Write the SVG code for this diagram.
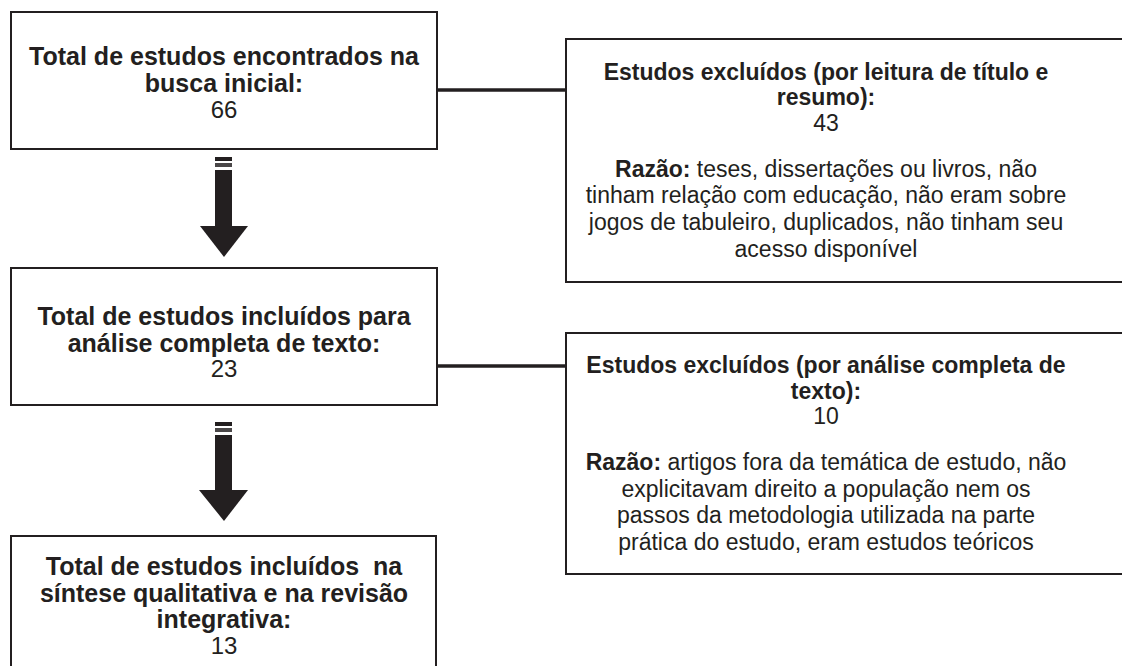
<svg xmlns="http://www.w3.org/2000/svg" width="1122" height="666" viewBox="0 0 1122 666">
<style>
.box{fill:#fff;stroke:#231f20;stroke-width:2}
.t{font-family:"Liberation Sans",Arial,sans-serif;fill:#231f20;text-anchor:middle}
.l{font-size:24px}
.lb{font-size:25px;font-weight:bold}
.r{font-size:23px}
.b{font-weight:bold}
.conn{stroke:#231f20;stroke-width:3.5;fill:none}
.arr{fill:#231f20}
.bar2{fill:#4a4748}
</style>
<rect width="1122" height="666" fill="#fff"/>
<g id="connectors">
<line class="conn" x1="437" y1="90" x2="566" y2="90"/>
<line class="conn" x1="437" y1="366" x2="566" y2="366"/>
<g id="arrow1">
<rect class="arr" x="215" y="157" width="17" height="4"/>
<rect class="bar2" x="215" y="163" width="17" height="4"/>
<rect class="arr" x="215" y="170" width="17" height="57"/>
<polygon class="arr" points="200,226 248,226 224,257"/>
</g>
<g id="arrow2">
<rect class="arr" x="215" y="422" width="17" height="4"/>
<rect class="bar2" x="215" y="428" width="17" height="4"/>
<rect class="arr" x="215" y="435" width="17" height="56"/>
<polygon class="arr" points="199,490 248,490 224,521"/>
</g>
</g>
<g id="n1">
<rect class="box" x="11" y="12" width="426" height="137"/>
<text class="t lb" x="224" y="65">Total de estudos encontrados na</text>
<text class="t lb" x="224" y="92">busca inicial:</text>
<text class="t l" x="224" y="118">66</text>
</g>
<g id="n2">
<rect class="box" x="566" y="39" width="580" height="243"/>
<text class="t r b" x="826" y="80">Estudos excluídos (por leitura de título e</text>
<text class="t r b" x="826" y="105">resumo):</text>
<text class="t r" x="826" y="131">43</text>
<text class="t r" x="826" y="177"><tspan class="b">Razão:</tspan> teses, dissertações ou livros, não</text>
<text class="t r" x="826" y="203">tinham relação com educação, não eram sobre</text>
<text class="t r" x="826" y="230">jogos de tabuleiro, duplicados, não tinham seu</text>
<text class="t r" x="826" y="257">acesso disponível</text>
</g>
<g id="n3">
<rect class="box" x="11" y="268" width="426" height="137"/>
<text class="t lb" x="224" y="325">Total de estudos incluídos para</text>
<text class="t lb" x="224" y="352">análise completa de texto:</text>
<text class="t l" x="224" y="377">23</text>
</g>
<g id="n4">
<rect class="box" x="566" y="333" width="580" height="241"/>
<text class="t r b" x="826" y="373">Estudos excluídos (por análise completa de</text>
<text class="t r b" x="826" y="399">texto):</text>
<text class="t r" x="826" y="424">10</text>
<text class="t r" x="826" y="470"><tspan class="b">Razão:</tspan> artigos fora da temática de estudo, não</text>
<text class="t r" x="826" y="497">explicitavam direito a população nem os</text>
<text class="t r" x="826" y="523">passos da metodologia utilizada na parte</text>
<text class="t r" x="826" y="550">prática do estudo, eram estudos teóricos</text>
</g>
<g id="n5">
<rect class="box" x="11" y="536" width="425" height="150"/>
<text class="t lb" x="224" y="575" xml:space="preserve">Total de estudos incluídos  na</text>
<text class="t lb" x="224" y="602">síntese qualitativa e na revisão</text>
<text class="t lb" x="224" y="628">integrativa:</text>
<text class="t l" x="224" y="654">13</text>
</g>
</svg>
